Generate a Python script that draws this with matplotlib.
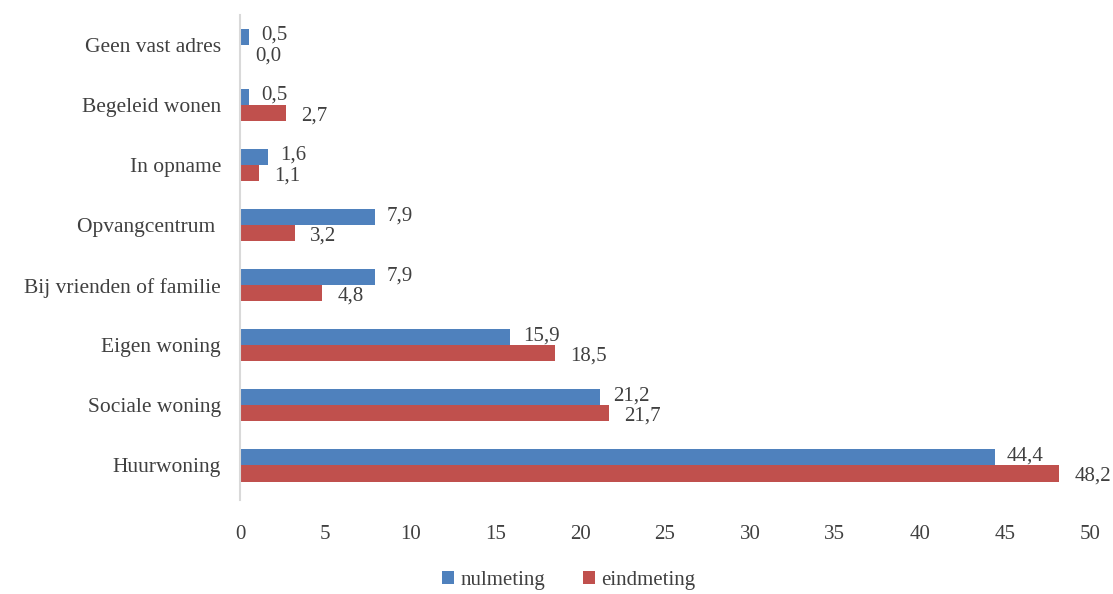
import matplotlib
matplotlib.use("Agg")
import matplotlib.pyplot as plt
import numpy as np

categories = ["Huurwoning", "Sociale woning", "Eigen woning", "Bij vrienden of familie",
              "Opvangcentrum ", "In opname", "Begeleid wonen", "Geen vast adres"]
nulmeting = [44.4, 21.2, 15.9, 7.9, 7.9, 1.6, 0.5, 0.5]
eindmeting = [48.2, 21.7, 18.5, 4.8, 3.2, 1.1, 2.7, 0.0]
xticks = [0, 5, 10, 15, 20, 25, 30, 35, 40, 45, 50]

plt.rcParams['font.family'] = ['Liberation Serif', 'DejaVu Serif']
blue = "#4F81BD"
red = "#C0504D"
txt = "#404040"

fig = plt.figure(figsize=(11.13, 5.94), dpi=100)
ax = fig.add_axes([0.216, 0.158, 0.763, 0.817])

y = np.arange(len(categories))
h = 0.27
ax.barh(y + h/2, nulmeting, height=h, color=blue, label="nulmeting")
ax.barh(y - h/2, eindmeting, height=h, color=red, label="eindmeting")

def fmt(v):
    return f"{v:.1f}".replace(".", ",")

fs = 15
for yi, v in zip(y, nulmeting):
    ax.annotate(fmt(v), (v, yi + h/2), xytext=(9, 1), textcoords="offset points",
                va="center", ha="left", fontsize=fs, color=txt)
for yi, v in zip(y, eindmeting):
    ax.annotate(fmt(v), (v, yi - h/2), xytext=(11, -2), textcoords="offset points",
                va="center", ha="left", fontsize=fs, color=txt)

ax.set_xlim(0, 50)
ax.set_ylim(-0.58, 7.5)
ax.set_xticks(xticks)
ax.set_xticklabels([str(t) for t in xticks])
ax.set_yticks(y)
ax.set_yticklabels(categories, fontsize=15.5)
ax.tick_params(axis='both', length=0, colors=txt)
ax.tick_params(axis='x', pad=18, labelsize=fs)
ax.tick_params(axis='y', pad=14)
for s in ["top", "right", "bottom"]:
    ax.spines[s].set_visible(False)
ax.spines["left"].set_color("#D9D9D9")
ax.spines["left"].set_linewidth(1.5)

fig.legend(loc="lower center", bbox_to_anchor=(0.511, -0.025), ncol=2, frameon=False,
           fontsize=fs, handlelength=0.6, handleheight=0.6, handletextpad=0.3,
           columnspacing=1.8, labelcolor=txt)

fig.savefig("out.png", dpi=100)
